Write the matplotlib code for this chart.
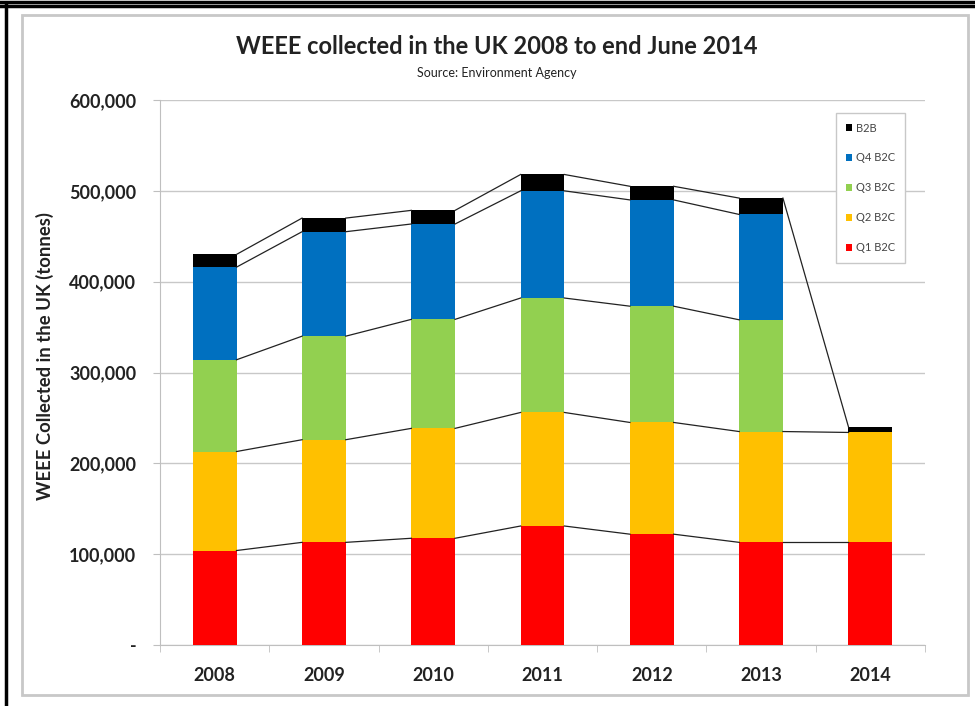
import numpy as np
import matplotlib.pyplot as plt
from matplotlib.patches import Rectangle, Patch
from matplotlib.lines import Line2D
from matplotlib.ticker import FuncFormatter

plt.rcParams['font.family'] = ['Lato', 'DejaVu Sans']

# data (tonnes)
years = ['2008', '2009', '2010', '2011', '2012', '2013', '2014']
q1_b2c = [104000, 113000, 117500, 131000, 122000, 113000, 113000]
q2_b2c = [109000, 113000, 121000, 125000, 123000, 122000, 121000]
q3_b2c = [101000, 114000, 120000, 126000, 128000, 123000, np.nan]
q4_b2c = [102000, 115000, 105000, 118000, 117000, 116000, np.nan]
b2b = [14000, 15000, 15000, 18000, 15000, 18000, 6000]

series = [
    ('Q1 B2C', q1_b2c, '#FF0000'),
    ('Q2 B2C', q2_b2c, '#FFC000'),
    ('Q3 B2C', q3_b2c, '#92D050'),
    ('Q4 B2C', q4_b2c, '#0070C0'),
    ('B2B', b2b, '#000000'),
]

fig = plt.figure(figsize=(9.75, 7.06), dpi=100)
ax = fig.add_axes([160/975, 1 - 645/706, 765/975, 545/706])

x = np.arange(len(years))
w = 0.4
bottom = np.zeros(len(years))
handles = []
for name, vals, col in series:
    v = np.array(vals, dtype=float)
    filled = np.nan_to_num(v)
    ax.bar(x, filled, w, bottom=bottom, color=col, zorder=3)
    top = bottom + filled
    # excel style series lines between bars
    for i in range(len(years) - 1):
        if np.isnan(v[i]) or np.isnan(v[i + 1]):
            continue
        ax.plot([i + w/2, i + 1 - w/2], [top[i], top[i + 1]],
                color='#222222', lw=0.9, zorder=4)
    bottom = top
    handles.append(Patch(facecolor=col, label=name))

ax.set_xlim(-0.5, 6.5)
ax.set_ylim(0, 600000)
ax.set_yticks(np.arange(0, 600001, 100000))
ax.yaxis.set_major_formatter(FuncFormatter(lambda v, p: '-' if v == 0 else f'{int(v):,}'))
ax.set_xticks(x)
ax.set_xticklabels(years)
ax.set_xticks(np.arange(-0.5, 7, 1), minor=True)
ax.tick_params(axis='x', which='major', length=0, pad=16)
ax.tick_params(axis='x', which='minor', length=5, color='#BFBFBF')
ax.tick_params(axis='y', length=5, color='#BFBFBF', pad=12, direction='out')
for lab in ax.get_xticklabels() + ax.get_yticklabels():
    lab.set_fontweight('bold')
    lab.set_fontsize(13)
    lab.set_color('#222222')

ax.grid(axis='y', color='#C8C8C8', lw=1, zorder=0)
for s in ['top', 'right']:
    ax.spines[s].set_visible(False)
ax.spines['left'].set_color('#BFBFBF')
ax.spines['bottom'].set_color('#BFBFBF')

ax.set_ylabel('WEEE Collected in the UK (tonnes)', fontsize=13.3,
              fontweight='bold', color='#222222')
ax.yaxis.set_label_coords(-106/765, 0.53)

leg = ax.legend(handles=handles[::-1], loc='upper left',
                bbox_to_anchor=(670/765, 1 - 7/545), fontsize=8,
                handlelength=0.6, handleheight=0.6, handletextpad=0.3,
                labelspacing=1.7, borderpad=0.9, fancybox=False,
                framealpha=1, edgecolor='#C8C8C8')
for t in leg.get_texts():
    t.set_color('#444444')

fig.text(497/975, 1 - 46/706, 'WEEE collected in the UK 2008 to end June 2014',
         ha='center', va='center', fontsize=17, fontweight='bold', color='#222222')
fig.text(497/975, 1 - 73/706, 'Source: Environment Agency',
         ha='center', va='center', fontsize=9, color='#222222')

# outer frames
fig.patches.append(Rectangle((22/975, 1 - 695/706), 946/975, 680/706,
                             transform=fig.transFigure, fill=False,
                             edgecolor='#C8C8C8', lw=2))
fig.lines.append(Line2D([0, 1], [1 - 1.5/706, 1 - 1.5/706], transform=fig.transFigure,
                        color='black', lw=2.5))
fig.lines.append(Line2D([0, 1], [1 - 5.5/706, 1 - 5.5/706], transform=fig.transFigure,
                        color='black', lw=2.5))
fig.lines.append(Line2D([6/975, 6/975], [0, 1 - 5/706], transform=fig.transFigure,
                        color='black', lw=2.5))

fig.savefig('out.png', dpi=100)
